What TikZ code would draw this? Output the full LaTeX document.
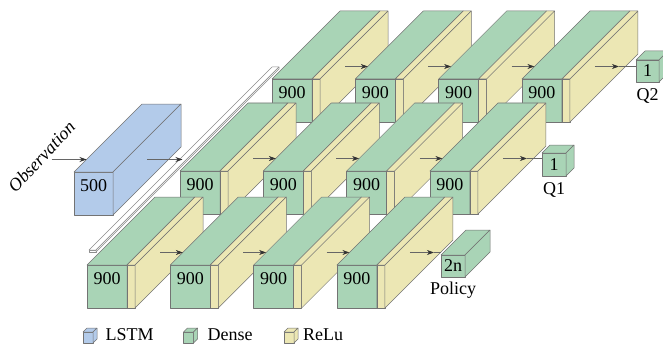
\documentclass[tikz,border=0pt]{standalone}
\usepackage{fontspec}
\setmainfont{Liberation Serif}
\usetikzlibrary{arrows.meta,positioning}

\definecolor{lstmblue}{HTML}{B3CBEA}
\definecolor{densegreen}{HTML}{A9D4B6}
\definecolor{reluyellow}{HTML}{ECE7B4}

\tikzset{
  face/.style={draw=black!55, line width=0.5pt, line join=round},
  lstm/.style={face, fill=lstmblue},
  dense/.style={face, fill=densegreen},
  relu/.style={face, fill=reluyellow},
  slab/.style={draw=black!45, line width=0.5pt, line join=round, fill=white},
  units/.style={inner sep=0pt},
  flow/.style={draw=black!60, line width=0.6pt, -{Stealth[length=7pt,width=5pt,black!80]}},
  link/.style={draw=black!60, line width=0.6pt},
}

% cuboid: style, x, y, width, height, depth
\newcommand{\cuboid}[6]{%
  \filldraw[#1] (#2,#3) rectangle ++(#4,#5);
  \filldraw[#1] (#2,#3) ++(0,#5) -- ++(#6,#6) -- ++(#4,0) -- ++(-#6,-#6) -- cycle;
  \filldraw[#1] (#2,#3) ++(#4,0) -- ++(#6,#6) -- ++(0,#5) -- ++(-#6,-#6) -- cycle;}

% dense + relu block: name, x, y, units
\newcommand{\denseblock}[4]{%
  \begin{scope}[shift={({#2},{#3})}]
    \cuboid{dense}{0}{0}{40}{43}{68}
    \cuboid{relu}{40}{0}{8}{43}{68}
    \node[units] (#1) at (20,29) {#4};
    \coordinate (#1-in) at (12.5,55.5);
    \coordinate (#1-out) at (73,55.5);
    \coordinate (#1-next) at (97,55.5);
  \end{scope}}

% small cube with its front face as a node: [style], name, x, y, w, h, d, text
\newcommand{\headcube}[8][dense]{%
  \cuboid{#1}{#3}{#4}{#5}{#6}{#7}
  \node[units, minimum width=#5pt, minimum height=#6pt, anchor=south west] (#2) at (#3,#4) {#8};}

\begin{document}
\begin{tikzpicture}[x=1pt, y=1pt, font=\fontsize{18}{21}\selectfont]
  \useasboundingbox (0,0) rectangle (663,346);

  % back row -> Q2
  \foreach \i in {1,...,4} {\denseblock{qb_\i}{272+83.3*(\i-1)}{224}{900}}
  \foreach \i/\j in {1/2,2/3,3/4}
    \draw[flow] (qb_\i-out) -- (qb_\j-in);
  \headcube{q_2}{636}{264}{23}{22}{9}{1}
  \draw[flow] (qb_4-out) -- (qb_4-next);
  \draw[link] (qb_4-next) -- (qb_4-next -| q_2.west);
  \node[units, below=6pt of q_2] {Q2};

  % shared plane
  \cuboid{slab}{89}{94}{7}{2}{183}
  \coordinate (slab-in) at (182.5,186.5);

  % LSTM
  \begin{scope}[shift={(74,131)}]
    \cuboid{lstm}{0}{0}{39}{43}{68}
    \node[units] (lstm) at (19.5,29) {500};
    \coordinate (lstm-in) at (12.5,55.5);
    \coordinate (lstm-out) at (73,55.5);
  \end{scope}
  \node[rotate=47, font=\fontsize{18}{21}\selectfont\itshape] (obs) at (41.5,189.5) {Observation};
  \draw[flow] ([xshift=-35pt]lstm-in) -- (lstm-in);
  \draw[flow] (lstm-out) -- (slab-in);

  % middle row -> Q1
  \foreach \i in {1,...,4} {\denseblock{qa_\i}{180+83.3*(\i-1)}{132}{900}}
  \foreach \i/\j in {1/2,2/3,3/4}
    \draw[flow] (qa_\i-out) -- (qa_\j-in);
  \headcube{q_1}{542}{170}{24}{23}{8}{1}
  \draw[flow] (qa_4-out) -- (qa_4-next);
  \draw[link] (qa_4-next) -- (qa_4-next -| q_1.west);
  \node[units, below=6pt of q_1] {Q1};

  % front row -> policy
  \foreach \i in {1,...,4} {\denseblock{pi_\i}{87+83.3*(\i-1)}{38}{900}}
  \foreach \i/\j in {1/2,2/3,3/4}
    \draw[flow] (pi_\i-out) -- (pi_\j-in);
  \headcube{pol}{441}{69}{24}{22}{25}{2n}
  \draw[flow] (pi_4-out) -- (pi_4-next);
  \draw[link] (pi_4-next) -- (pi_4-next -| pol.west);
  \node[units, below=5pt of pol] {Policy};

  % legend
  \headcube[lstm]{key_lstm}{83}{3}{10}{11}{4}{}
  \headcube[dense]{key_dense}{183.5}{3}{10}{11}{4}{}
  \headcube[relu]{key_relu}{284}{3}{10}{11}{4}{}
  \node[units, right=12pt of key_lstm, yshift=3pt] {LSTM};
  \node[units, right=13.5pt of key_dense, yshift=3pt] {Dense};
  \node[units, right=8.5pt of key_relu, yshift=3pt] {ReLu};
\end{tikzpicture}
\end{document}
